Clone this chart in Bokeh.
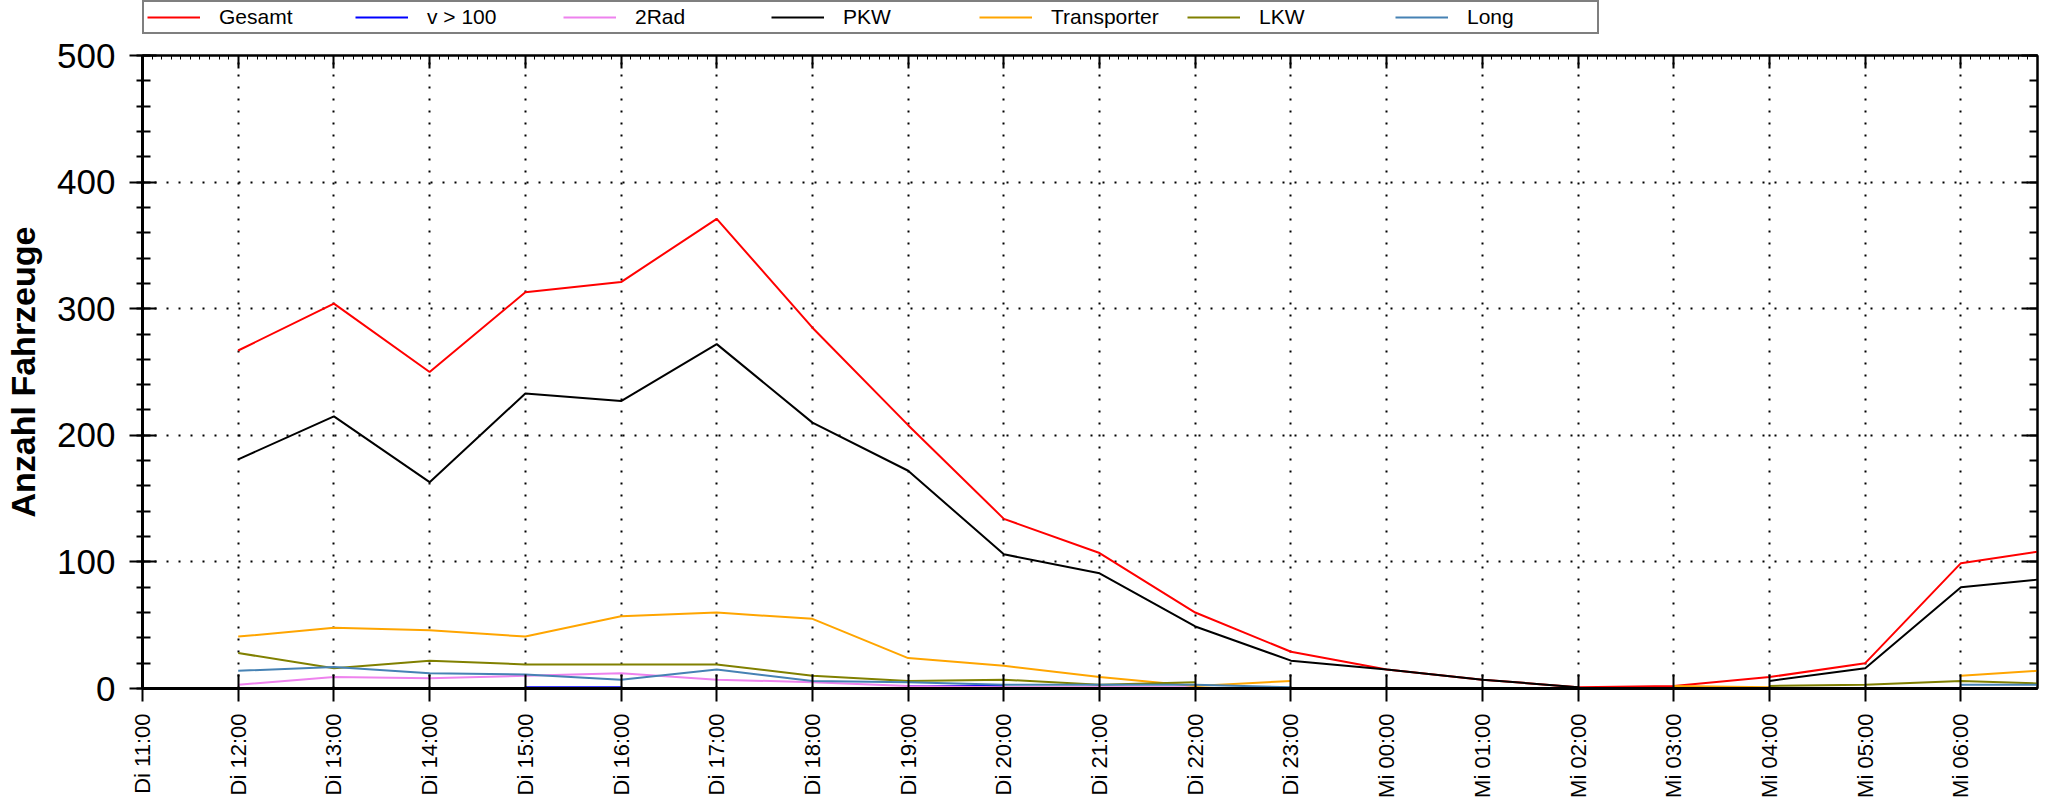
import math
from bokeh.plotting import figure
from bokeh.layouts import column
from bokeh.models import Range1d, LinearAxis, FixedTicker, Legend, LegendItem, CustomJSTickFormatter
from bokeh.embed import file_html
from bokeh.resources import INLINE

nan = float("nan")

# hours after "Di 11:00"; last point is the partial hour at the right edge
hours = [1, 2, 3, 4, 5, 6, 7, 8, 9, 10, 11, 12, 13, 14, 15, 16, 17, 18, 19, 19.8]
tick_hours = list(range(20))
tick_labels = ["Di 11:00", "Di 12:00", "Di 13:00", "Di 14:00", "Di 15:00", "Di 16:00",
               "Di 17:00", "Di 18:00", "Di 19:00", "Di 20:00", "Di 21:00", "Di 22:00",
               "Di 23:00", "Mi 00:00", "Mi 01:00", "Mi 02:00", "Mi 03:00", "Mi 04:00",
               "Mi 05:00", "Mi 06:00"]

gesamt = [267, 304, 250, 313, 321, 371, 285, 208, 134, 107, 60, 29, 15, 7, 1, 2, 9, 20, 99, 108]
v100 = [nan, nan, nan, 1, 1, nan, nan, 2, 2, nan, nan, nan, nan, nan, nan, nan, nan, nan, nan, nan]
zweirad = [3, 9, 8, 10, 12, 7, 5, 2, 1, 1, 1, nan, nan, nan, nan, nan, nan, nan, nan, nan]
pkw = [181, 215, 163, 233, 227, 272, 210, 172, 106, 91, 49, 22, 15, 7, 1, nan, 6, 16, 80, 86]
transporter = [41, 48, 46, 41, 57, 60, 55, 24, 18, 9, 2, 6, nan, nan, nan, 2, 1, nan, 10, 14]
lkw = [28, 16, 22, 19, 19, 19, 10, 6, 7, 3, 5, nan, nan, nan, nan, nan, 2, 3, 6, 4]
long_ = [14, 17, 12, 11, 7, 15, 6, 5, 3, 3, 3, 1, nan, nan, nan, nan, nan, nan, 3, 3]

series_names = ["Gesamt", "v > 100", "2Rad", "PKW", "Transporter", "LKW", "Long"]
series_values = [gesamt, v100, zweirad, pkw, transporter, lkw, long_]
series_colors = ["#ff0000", "#0000ff", "#ee82ee", "#000000", "#ffa500", "#808000", "#4682b4"]

y_major = list(range(0, 501, 100))
y_minor = list(range(0, 501, 20))

FONT = "Liberation Sans"

p = figure(width=2041, height=766,
           x_range=Range1d(0, 19.8), y_range=Range1d(0, 500),
           output_backend="svg", toolbar_location=None,
           min_border_left=142, min_border_right=4,
           min_border_top=21, min_border_bottom=103)
p.background_fill_color = "white"
p.border_fill_color = "white"
p.outline_line_color = "black"
p.outline_line_width = 2

# bottom axis
xa = p.xaxis[0]
xa.ticker = FixedTicker(ticks=tick_hours, minor_ticks=[])
xa.major_label_overrides = {h: lab for h, lab in zip(tick_hours, tick_labels)}
xa.major_label_orientation = math.pi / 2
xa.major_label_text_font = FONT
xa.major_label_text_font_size = "22px"
xa.major_label_text_color = "black"
xa.major_label_standoff = 12
xa.major_tick_in = 14
xa.major_tick_out = 13
xa.major_tick_line_width = 2
xa.major_tick_line_color = "black"
xa.axis_line_width = 3
xa.axis_line_color = "black"

# left axis
ya = p.yaxis[0]
ya.ticker = FixedTicker(ticks=y_major, minor_ticks=y_minor)
ya.major_label_text_font = FONT
ya.major_label_text_font_size = "35px"
ya.major_label_text_color = "black"
ya.major_label_standoff = 14
ya.major_tick_in = 14
ya.major_tick_out = 13
ya.minor_tick_in = 8
ya.minor_tick_out = 6
ya.major_tick_line_width = 2
ya.minor_tick_line_width = 2
ya.major_tick_line_color = "black"
ya.minor_tick_line_color = "black"
ya.axis_line_width = 3
ya.axis_line_color = "black"
ya.axis_label = "Anzahl Fahrzeuge"
ya.axis_label_text_font = FONT
ya.axis_label_text_font_style = "bold"
ya.axis_label_text_font_size = "34px"
ya.axis_label_text_color = "black"
ya.axis_label_standoff = 12

# grids
for g in (p.xgrid[0], p.ygrid[0]):
    g.grid_line_color = "black"
    g.grid_line_width = 2
    g.grid_line_dash = "2 10"
p.xgrid[0].ticker = FixedTicker(ticks=tick_hours)
p.ygrid[0].ticker = FixedTicker(ticks=y_major)

# top mirror axis (ticks only)
top_axis = LinearAxis(ticker=FixedTicker(ticks=tick_hours, minor_ticks=[i / 10 for i in range(199)]),
                      formatter=CustomJSTickFormatter(code="return ''"), major_label_standoff=0,
                      major_tick_in=13, major_tick_out=0, minor_tick_in=4, minor_tick_out=0,
                      major_tick_line_width=2, minor_tick_line_width=1,
                      axis_line_width=2, axis_line_color="black")
p.add_layout(top_axis, "above")

# right mirror axis (ticks only)
right_axis = LinearAxis(ticker=FixedTicker(ticks=y_major, minor_ticks=y_minor),
                        formatter=CustomJSTickFormatter(code="return ''"), major_label_standoff=0,
                        major_tick_in=16, major_tick_out=0, minor_tick_in=8, minor_tick_out=0,
                        major_tick_line_width=2, minor_tick_line_width=2,
                        axis_line_width=2, axis_line_color="black")
p.add_layout(right_axis, "right")

for vals, col in zip(series_values, series_colors):
    p.line(hours, vals, line_color=col, line_width=2)

# legend strip above the chart (its proxy lines lie outside its visible range)
lf = figure(width=2041, height=34, x_range=Range1d(100, 101), y_range=Range1d(0, 1),
            output_backend="svg", toolbar_location=None,
            min_border_left=142, min_border_right=4, min_border_top=0, min_border_bottom=0)
lf.axis.visible = False
lf.grid.visible = False
lf.outline_line_color = None
lf.border_fill_color = "white"
items = []
for name, vals, col in zip(series_names, series_values, series_colors):
    r = lf.line(hours, vals, line_color=col, line_width=2)
    items.append(LegendItem(label=name, renderers=[r]))

legend = Legend(items=items, orientation="horizontal", location="bottom_left",
                glyph_width=53, glyph_height=16, label_height=16,
                label_standoff=19, label_width=127, spacing=9,
                padding=3, margin=0,
                border_line_color="black", border_line_width=2,
                background_fill_color="white", background_fill_alpha=1,
                label_text_font=FONT, label_text_font_size="21px",
                label_text_color="black")
lf.add_layout(legend, "center")

layout = column(lf, p, spacing=0)
open("out.html", "w").write(file_html(layout, INLINE))
